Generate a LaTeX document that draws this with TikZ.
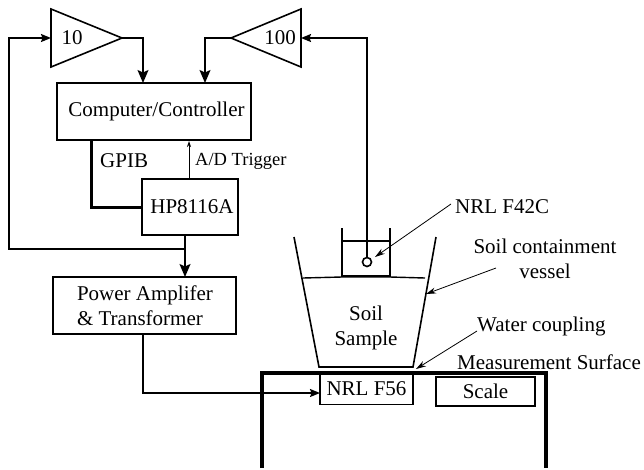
\documentclass[tikz,border=0pt]{standalone}
\usepackage{fontspec}
\setmainfont{Liberation Serif}
\usetikzlibrary{arrows.meta}
\tikzset{
  x=1pt,y=-1pt,
  txt/.style={inner sep=0pt,font=\fontsize{21}{25}\selectfont},
  boxn/.style={draw,line width=1.8pt,inner sep=0pt,txt},
  amp/.style={draw,line width=1.6pt,line join=miter},
  wire/.style={line width=1.5pt},
  bigtip/.style={-{Stealth[length=13pt,width=11pt,inset=2.5pt]}},
  midtip/.style={-{Stealth[length=10pt,width=8pt,inset=1.5pt]}},
  smalltip/.style={-{Stealth[length=6pt,width=4pt]}},
  leader/.style={line width=0.8pt,-{Stealth[length=10pt,width=6pt]}},
}
\begin{document}
\begin{tikzpicture}
\useasboundingbox (0,0) rectangle (644,469);
% amplifiers
\draw[amp] (51,9) -- (51,67) -- (122,38) -- cycle;
\draw[amp] (301,9) -- (301,67) -- (231,38) -- cycle;
\coordinate (a10in) at (51,38); \coordinate (a10out) at (122,38);
\coordinate (a100out) at (231,38); \coordinate (a100in) at (301,38);
\node[txt] (l10) at (72,38) {10};
\node[txt] (l100) at (280,38) {100};
% boxes
\node[boxn,minimum width=194pt,minimum height=57pt] (cc) at (154,111.5) {\hspace*{5pt}Computer/Controller};
\node[boxn,minimum width=96pt,minimum height=56pt] (hp) at (190,207) {\hspace*{4pt}HP8116A};
\node[boxn,line width=1.5pt,minimum width=183pt,minimum height=57pt,align=left] (pa) at (144.5,305.5) {\hspace*{1pt}Power Amplifer\\\hspace*{1pt}\& Transformer};
% measurement surface
\draw[line width=4pt,line join=miter] (262,468) -- (262,373) -- (546,373) -- (546,468);
\node[boxn,line width=1.5pt,minimum width=93pt,minimum height=31pt] (f56) at (366.5,389) {NRL F56};
\node[boxn,line width=1.5pt,minimum width=99pt,minimum height=29pt] (sc) at (485.5,391.5) {Scale};
% wires
\draw[wire,bigtip] (a10out) -- (143,38) -- (143,83);
\draw[wire,bigtip] (a100out) -- (205,38) -- (205,83);
\draw[line width=3pt] (91,140) -- (91,207) -- (hp.west |- 0,207);
\draw[line width=0.8pt,smalltip] (189,179) -- (189,141);
\draw[wire,bigtip] (hp.south -| 185,0) -- (185,277);
\draw[wire,midtip] (185,249) -- (9,249) -- (9,38) -- (a10in);
\draw[wire,midtip] (143,334) -- (143,393) -- (320,393);
% vessel
\draw[line width=1.6pt] (294,237) -- (319,367) -- (413,367) -- (436,237);
\draw[line width=1.4pt] (303,278) -- (342,277) -- (390,277) -- (425,278);
% sensor
\draw[line width=1.6pt] (342,228) -- (342,276) -- (390,276) -- (390,228);
\draw[line width=1.6pt] (342,241) -- (390,241);
\node[draw,circle,line width=1.6pt,minimum size=9pt,inner sep=0pt] (sens) at (367,262) {};
\draw[wire,midtip] (sens.north) -- (367,38) -- (a100in);
% labels
\node[txt,anchor=west] (gpib) at (100,161) {GPIB};
\node[txt,anchor=west,font=\fontsize{18.5}{22}\selectfont] (ad) at (195,161) {A/D Trigger};
\node[txt,anchor=west] (f42) at (455,207) {NRL F42C};
\node[txt,align=center] (scv) at (545,258.5) {Soil containment\\vessel};
\node[txt,align=center] (soil) at (366,328) {Soil\\Sample};
\node[txt,anchor=west] (wc) at (477,326) {Water coupling};
\node[txt,anchor=west] (ms) at (457,362) {Measurement Surface};
% leaders
\coordinate (e1) at (451,204); \coordinate (e2) at (375,257);
\coordinate (e3) at (496,268); \coordinate (e4) at (426,294);
\coordinate (e5) at (477,331); \coordinate (e6) at (416,369);
\draw[leader] (e1) -- (e2);
\draw[leader] (e3) -- (e4);
\draw[leader] (e5) -- (e6);
\end{tikzpicture}
\end{document}
